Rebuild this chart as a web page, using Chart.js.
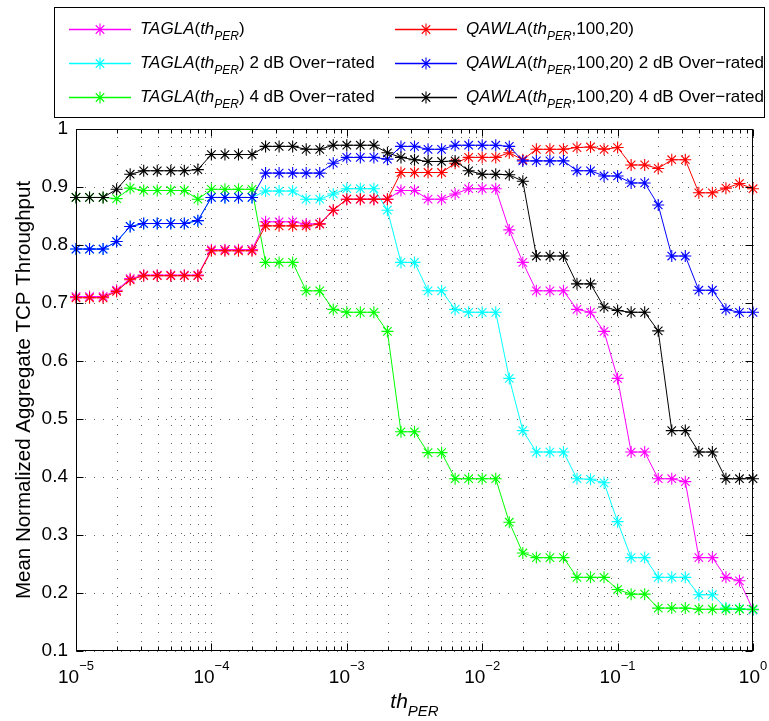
<!DOCTYPE html>
<html>
<head>
<meta charset="utf-8">
<script src="https://cdn.jsdelivr.net/npm/chart.js@4.4.1/dist/chart.umd.min.js"></script>
<style>
  html, body { margin: 0; padding: 0; background: #fff; }
  #wrap { position: relative; width: 769px; height: 721px; }
</style>
</head>
<body>
<div id="wrap"><canvas id="myChart"></canvas></div>
<script>
// th_PER grid (logspace -5..0, 51 points)
const thPer = [
  1e-5, 1.2589e-5, 1.5849e-5, 1.9953e-5, 2.5119e-5, 3.1623e-5, 3.9811e-5, 5.0119e-5, 6.3096e-5, 7.9433e-5,
  1e-4, 1.2589e-4, 1.5849e-4, 1.9953e-4, 2.5119e-4, 3.1623e-4, 3.9811e-4, 5.0119e-4, 6.3096e-4, 7.9433e-4,
  1e-3, 1.2589e-3, 1.5849e-3, 1.9953e-3, 2.5119e-3, 3.1623e-3, 3.9811e-3, 5.0119e-3, 6.3096e-3, 7.9433e-3,
  1e-2, 1.2589e-2, 1.5849e-2, 1.9953e-2, 2.5119e-2, 3.1623e-2, 3.9811e-2, 5.0119e-2, 6.3096e-2, 7.9433e-2,
  1e-1, 1.2589e-1, 1.5849e-1, 1.9953e-1, 2.5119e-1, 3.1623e-1, 3.9811e-1, 5.0119e-1, 6.3096e-1, 7.9433e-1,
  1
];

const tagla = [
  0.711, 0.711, 0.711, 0.722, 0.742, 0.748, 0.748, 0.748, 0.748, 0.748,
  0.792, 0.792, 0.792, 0.792, 0.840, 0.840, 0.840, 0.836, 0.837, 0.860,
  0.879, 0.879, 0.879, 0.879, 0.894, 0.894, 0.879, 0.879, 0.888, 0.897,
  0.897, 0.897, 0.826, 0.770, 0.721, 0.721, 0.721, 0.689, 0.684, 0.651,
  0.570, 0.443, 0.443, 0.397, 0.397, 0.392, 0.261, 0.261, 0.227, 0.221,
  0.171
];
const tagla2dB = [
  0.793, 0.793, 0.793, 0.806, 0.832, 0.837, 0.837, 0.837, 0.837, 0.842,
  0.882, 0.882, 0.882, 0.882, 0.893, 0.893, 0.893, 0.879, 0.879, 0.888,
  0.897, 0.897, 0.897, 0.860, 0.770, 0.770, 0.721, 0.721, 0.689, 0.684,
  0.684, 0.684, 0.570, 0.480, 0.443, 0.443, 0.443, 0.397, 0.396, 0.390,
  0.323, 0.261, 0.261, 0.227, 0.227, 0.227, 0.197, 0.197, 0.174, 0.173,
  0.171
];
const tagla4dB = [
  0.882, 0.882, 0.882, 0.880, 0.898, 0.894, 0.894, 0.894, 0.894, 0.879,
  0.896, 0.896, 0.896, 0.896, 0.770, 0.770, 0.770, 0.721, 0.721, 0.689,
  0.684, 0.684, 0.684, 0.651, 0.478, 0.478, 0.442, 0.442, 0.397, 0.397,
  0.397, 0.397, 0.322, 0.269, 0.261, 0.261, 0.261, 0.227, 0.227, 0.227,
  0.206, 0.198, 0.198, 0.174, 0.174, 0.174, 0.172, 0.172, 0.172, 0.172,
  0.172
];
const qawla = [
  0.709, 0.709, 0.709, 0.720, 0.740, 0.747, 0.747, 0.747, 0.747, 0.747,
  0.790, 0.790, 0.790, 0.790, 0.833, 0.833, 0.833, 0.833, 0.836, 0.860,
  0.879, 0.879, 0.879, 0.879, 0.925, 0.925, 0.925, 0.925, 0.941, 0.951,
  0.951, 0.951, 0.959, 0.947, 0.965, 0.965, 0.965, 0.968, 0.969, 0.965,
  0.968, 0.938, 0.938, 0.932, 0.947, 0.947, 0.890, 0.890, 0.898, 0.906,
  0.897
];
const qawla2dB = [
  0.793, 0.793, 0.793, 0.806, 0.832, 0.837, 0.837, 0.837, 0.837, 0.842,
  0.882, 0.882, 0.882, 0.882, 0.924, 0.924, 0.924, 0.924, 0.924, 0.941,
  0.951, 0.951, 0.951, 0.948, 0.970, 0.970, 0.965, 0.965, 0.972, 0.972,
  0.972, 0.972, 0.970, 0.945, 0.945, 0.945, 0.945, 0.928, 0.928, 0.919,
  0.919, 0.907, 0.907, 0.869, 0.781, 0.781, 0.722, 0.722, 0.689, 0.684,
  0.684
];
const qawla4dB = [
  0.882, 0.882, 0.882, 0.896, 0.922, 0.928, 0.928, 0.928, 0.928, 0.930,
  0.956, 0.956, 0.956, 0.956, 0.970, 0.970, 0.970, 0.965, 0.965, 0.972,
  0.972, 0.972, 0.972, 0.959, 0.951, 0.947, 0.944, 0.944, 0.945, 0.928,
  0.922, 0.922, 0.921, 0.910, 0.781, 0.781, 0.781, 0.733, 0.733, 0.693,
  0.687, 0.684, 0.684, 0.652, 0.480, 0.480, 0.443, 0.443, 0.397, 0.397,
  0.397
];

const decadeExps = [-5, -4, -3, -2, -1, 0];
const yTicks = [0.1, 0.2, 0.3, 0.4, 0.5, 0.6, 0.7, 0.8, 0.9, 1];

const FONT = '"Liberation Sans", Arial, Helvetica, sans-serif';

// legend label pieces: [text, style]  n = normal, i = italic, s = italic subscript
const thPart = [["th", "i"], ["PER", "s"]];
const series = [
  { values: tagla,    color: "#ff00ff", label: [["TAGLA", "i"], ["(", "n"], ...thPart, [")", "n"]] },
  { values: tagla2dB, color: "#00ffff", label: [["TAGLA", "i"], ["(", "n"], ...thPart, [") 2 dB Over\u2212rated", "n"]] },
  { values: tagla4dB, color: "#00ff00", label: [["TAGLA", "i"], ["(", "n"], ...thPart, [") 4 dB Over\u2212rated", "n"]] },
  { values: qawla,    color: "#ff0000", label: [["QAWLA", "i"], ["(", "n"], ...thPart, [",100,20)", "n"]] },
  { values: qawla2dB, color: "#0000ff", label: [["QAWLA", "i"], ["(", "n"], ...thPart, [",100,20) 2 dB Over\u2212rated", "n"]] },
  { values: qawla4dB, color: "#000000", label: [["QAWLA", "i"], ["(", "n"], ...thPart, [",100,20) 4 dB Over\u2212rated", "n"]] },
];

function drawStar(ctx, x, y, r) {
  const d = r * Math.SQRT1_2;
  ctx.beginPath();
  ctx.moveTo(x - r, y); ctx.lineTo(x + r, y);
  ctx.moveTo(x, y - r); ctx.lineTo(x, y + r);
  ctx.moveTo(x - d, y - d); ctx.lineTo(x + d, y + d);
  ctx.moveTo(x - d, y + d); ctx.lineTo(x + d, y - d);
  ctx.stroke();
}

function partFont(s, size) {
  const sz = s === "s" ? Math.round(size * 0.72) : size;
  return (s === "i" || s === "s" ? "italic " : "") + sz + "px " + FONT;
}
function richWidth(ctx, parts, size) {
  let w = 0;
  parts.forEach(([t, s]) => { ctx.font = partFont(s, size); w += ctx.measureText(t).width; });
  return w;
}
function drawRich(ctx, parts, x, y, size) {
  ctx.textAlign = "left";
  ctx.textBaseline = "alphabetic";
  parts.forEach(([t, s]) => {
    ctx.font = partFont(s, size);
    ctx.fillText(t, x, s === "s" ? y + size * 0.4 : y);
    x += ctx.measureText(t).width;
  });
}

const gridPlugin = {
  id: "matlabGrid",
  beforeDatasetsDraw(chart) {
    const { ctx, chartArea: a, scales: { x, y } } = chart;
    ctx.save();
    ctx.strokeStyle = "rgba(0,0,0,0.6)";
    ctx.lineWidth = 1;
    ctx.setLineDash([1, 8]);
    decadeExps.forEach(e => {
      for (let m = 1; m <= 9; m++) {
        const v = m * Math.pow(10, e);
        if (v > 1.0001) break;
        const px = Math.round(x.getPixelForValue(v)) + 0.5;
        ctx.beginPath(); ctx.moveTo(px, a.bottom); ctx.lineTo(px, a.top); ctx.stroke();
      }
    });
    yTicks.forEach(v => {
      const py = Math.round(y.getPixelForValue(v)) + 0.5;
      ctx.beginPath(); ctx.moveTo(a.left, py); ctx.lineTo(a.right, py); ctx.stroke();
    });
    ctx.restore();
  },
  afterDraw(chart) {
    const { ctx, chartArea: a, scales: { x, y } } = chart;
    ctx.save();
    ctx.strokeStyle = "#000";
    ctx.fillStyle = "#000";
    ctx.lineWidth = 1;
    ctx.setLineDash([]);
    const L = Math.round(a.left) + 0.5, R = Math.round(a.right) - 0.5;
    const T = Math.round(a.top) + 0.5, B = Math.round(a.bottom) - 0.5;
    ctx.strokeRect(L, T, R - L, B - T);

    // inward tick marks
    ctx.beginPath();
    decadeExps.forEach(e => {
      for (let m = 1; m <= 9; m++) {
        const v = m * Math.pow(10, e);
        if (v > 1.0001) break;
        const px = Math.round(x.getPixelForValue(v)) + 0.5;
        const len = m === 1 ? 7 : 4;
        ctx.moveTo(px, B); ctx.lineTo(px, B - len);
        ctx.moveTo(px, T); ctx.lineTo(px, T + len);
      }
    });
    yTicks.forEach(v => {
      const py = Math.round(y.getPixelForValue(v)) + 0.5;
      ctx.moveTo(L, py); ctx.lineTo(L + 7, py);
      ctx.moveTo(R, py); ctx.lineTo(R - 7, py);
    });
    ctx.stroke();

    // x tick labels 10^e
    decadeExps.forEach(e => {
      const px = x.getPixelForValue(Math.pow(10, e));
      const sup = e < 0 ? "\u2212" + (-e) : String(e);
      ctx.font = "19px " + FONT;
      const wb = ctx.measureText("10").width;
      ctx.font = "13px " + FONT;
      const ws = ctx.measureText(sup).width;
      const x0 = px - (wb + ws) / 2;
      ctx.textAlign = "left";
      ctx.textBaseline = "alphabetic";
      ctx.font = "19px " + FONT;
      ctx.fillText("10", x0, 683);
      ctx.font = "13px " + FONT;
      ctx.fillText(sup, x0 + wb, 670);
    });

    // x axis title th_PER
    const xt = [["th", "i"], ["PER", "s"]];
    const xw = richWidth(ctx, xt, 21);
    drawRich(ctx, xt, (a.left + a.right) / 2 - xw / 2, 708, 21);

    // y axis title
    ctx.save();
    ctx.translate(24, (a.top + a.bottom) / 2);
    ctx.rotate(-Math.PI / 2);
    ctx.textAlign = "center";
    ctx.textBaseline = "middle";
    ctx.font = "20.5px " + FONT;
    ctx.fillText("Mean Normalized Aggregate TCP Throughput", 0, 0);
    ctx.restore();

    // legend box
    ctx.fillStyle = "#fff";
    ctx.fillRect(54, 7, 710, 110);
    ctx.strokeStyle = "#000";
    ctx.lineWidth = 1;
    ctx.strokeRect(54.5, 7.5, 710, 110);
    const rowsY = [29, 63, 97];
    const cols = [{ l0: 69, l1: 131, tx: 140 }, { l0: 395, l1: 457, tx: 466 }];
    series.forEach((s, i) => {
      const col = cols[Math.floor(i / 3)];
      const ry = rowsY[i % 3];
      ctx.fillStyle = s.color;
      ctx.fillRect(col.l0, ry - 0.25, col.l1 - col.l0, 1.5);
      ctx.strokeStyle = s.color;
      ctx.lineWidth = 1.1;
      drawStar(ctx, (col.l0 + col.l1) / 2, ry + 0.5, 6);
      ctx.fillStyle = "#000";
      drawRich(ctx, s.label, col.tx, ry + 4.5, 17);
    });
    ctx.restore();
  }
};

const ctx = document.getElementById("myChart").getContext("2d");
new Chart(ctx, {
  type: "line",
  data: {
    datasets: series.map((s, i) => ({
      label: s.label.map(p => p[0]).join(""),
      data: thPer.map((xv, k) => ({ x: xv, y: s.values[k] })),
      borderColor: s.color,
      backgroundColor: s.color,
      borderWidth: 1,
      pointStyle: "star",
      pointRadius: 6,
      pointBorderWidth: 1.1,
      pointBorderColor: s.color,
      pointBackgroundColor: s.color,
      tension: 0,
      fill: false,
      clip: false,
      order: series.length - i,
    })),
  },
  options: {
    responsive: true,
    maintainAspectRatio: false,
    animation: false,
    devicePixelRatio: 1,
    layout: { padding: { top: 129, right: 16, left: 0, bottom: 0 } },
    plugins: {
      legend: { display: false },
      tooltip: { enabled: false },
    },
    scales: {
      x: {
        type: "logarithmic",
        min: 1e-5,
        max: 1,
        grid: { display: false, drawTicks: false },
        border: { display: false },
        ticks: { display: false },
        afterFit: (scale) => { scale.height = 70; },
      },
      y: {
        min: 0.1,
        max: 1,
        grid: { display: false, drawTicks: false },
        border: { display: false },
        ticks: {
          stepSize: 0.1,
          color: "#000",
          padding: 8,
          font: { family: FONT, size: 19 },
          callback: (v) => (Math.abs(v - 1) < 1e-9 ? "1" : v.toFixed(1)),
        },
        afterFit: (scale) => { scale.width = 76; },
      },
    },
  },
  plugins: [gridPlugin],
});
</script>
</body>
</html>
